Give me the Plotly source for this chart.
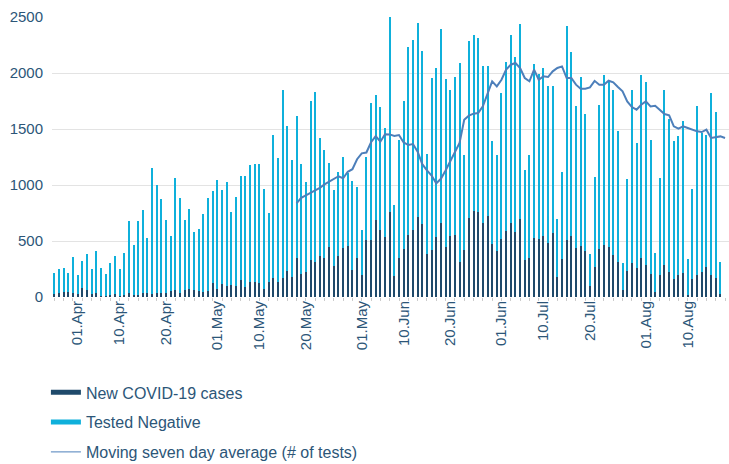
import pandas as pd
import plotly.graph_objects as go

start_date = "2020-03-27"
n_days = 145
dates = pd.date_range(start_date, periods=n_days, freq="D")

new_cases = [30, 33, 42, 48, 39, 30, 83, 62, 30, 39, 6, 9, 21, 27, 6, 21, 36, 18, 18, 36,
             36, 30, 36, 33, 36, 54, 62, 39, 62, 74, 60, 57, 48, 57, 128, 74, 119, 101, 110, 101,
             155, 92, 137, 137, 128, 74, 137, 173, 137, 173, 232, 182, 345, 208, 223, 327, 315, 369, 351, 446,
             280, 363, 434, 452, 244, 348, 199, 512, 512, 690, 595, 539, 762, 190, 345, 426, 557, 601, 717, 655,
             387, 420, 539, 658, 449, 545, 551, 312, 417, 705, 765, 756, 658, 726, 476, 408, 515, 586, 658, 577,
             699, 327, 345, 530, 521, 548, 485, 574, 176, 336, 512, 548, 434, 452, 408, 95, 265, 432, 461, 443,
             378, 315, 65, 232, 301, 256, 345, 283, 202, 42, 193, 283, 226, 158, 193, 217, 15, 158, 193, 220,
             271, 193, 167, 30]

tested_negative = [184, 214, 217, 166, 319, 169, 237, 322, 216, 372, 250, 196, 283, 336, 246, 372, 640, 442, 660, 738,
                   492, 1125, 961, 844, 648, 495, 997, 848, 622, 709, 519, 550, 693, 827, 818, 971, 837, 926, 649, 795,
                   922, 988, 1046, 1047, 1056, 890, 610, 1273, 1107, 1675, 1293, 1038, 1271, 976, 804, 1423, 1514, 1052, 961, 747,
                   674, 753, 816, 655, 788, 631, 402, 735, 1220, 1116, 1104, 973, 1738, 634, 1057, 1327, 1675, 1696, 1729, 1538,
                   887, 1535, 1506, 1735, 1500, 1300, 1416, 1780, 854, 1581, 1574, 1553, 1404, 1339, 920, 863, 1306, 1512, 1681, 1566,
                   1741, 804, 926, 1553, 1473, 1499, 1402, 1313, 520, 777, 1910, 1642, 1268, 1515, 1229, 292, 803, 1285, 1518, 1491,
                   1473, 1170, 242, 824, 1550, 1116, 1637, 1639, 1203, 348, 872, 1565, 1360, 1235, 1247, 1357, 324, 809, 1515, 1241,
                   1178, 1631, 1485, 285]

moving_avg = [None] * 52 + [
    836, 885, 908, 929, 950, 975, 1005, 1030, 1055, 1078, 1060, 1118, 1141, 1230, 1283, 1290, 1382, 1437, 1387, 1453,
    1452, 1437, 1446, 1380, 1357, 1366, 1298, 1186, 1131, 1085, 1015, 1055, 1130, 1211, 1283, 1375, 1583, 1619, 1637, 1643,
    1702, 1806, 1926, 1881, 1940, 2030, 2074, 2089, 2045, 1955, 1926, 2030, 1940, 1970, 1964, 2015, 2045, 2059, 1955, 1955,
    1896, 1860, 1860, 1872, 1930, 1896, 1896, 1931, 1917, 1875, 1836, 1747, 1696, 1672, 1717, 1747, 1702, 1708, 1672, 1634,
    1622, 1524, 1503, 1524, 1509, 1494, 1479, 1473, 1494, 1420, 1426, 1434, 1420]

tick_dates = ["2020-04-01", "2020-04-10", "2020-04-20", "2020-05-01", "2020-05-10", "2020-05-20",
              "2020-06-01", "2020-06-10", "2020-06-20", "2020-07-01", "2020-07-10", "2020-07-20",
              "2020-08-01", "2020-08-10"]
tick_labels = ["01.Apr", "10.Apr", "20.Apr", "01.May", "10.May", "20.May",
               "01.May", "10.Jun", "20.Jun", "01.Jun", "10.Jul", "20.Jul",
               "01.Aug", "10.Aug"]

series_names = ["New COVID-19 cases", "Tested Negative", "Moving seven day average (# of tests)"]

C_CASES = "#1f4a6b"
C_NEG = "#0fb0db"
C_LINE = "#4d7fba"
C_TEXT = "#2c5678"
FONT = "Liberation Sans, Arial, sans-serif"

bar_dates = dates[:len(new_cases)]

fig = go.Figure()
fig.add_trace(go.Bar(x=bar_dates, y=new_cases, name=series_names[0], marker_color=C_CASES,
                     marker_line_width=0, showlegend=False))
fig.add_trace(go.Bar(x=bar_dates, y=tested_negative, name=series_names[1], marker_color=C_NEG,
                     marker_line_width=0, showlegend=False))
fig.add_trace(go.Scatter(x=dates, y=moving_avg, name=series_names[2], mode="lines",
                         line=dict(color=C_LINE, width=2), showlegend=False, connectgaps=False))

# legend entries drawn as line symbols like the reference
for i, (nm, col, w) in enumerate(zip(series_names, [C_CASES, C_NEG, C_LINE], [5, 5, 1])):
    fig.add_trace(go.Scatter(x=[None], y=[None], mode="lines", name=nm,
                             line=dict(color=col, width=w), legendgroup=f"g{i}", showlegend=True))

fig.update_layout(
    width=729, height=464,
    margin=dict(l=52, r=0, t=17, b=167, autoexpand=False),
    paper_bgcolor="white", plot_bgcolor="white",
    barmode="stack", bargap=0.57,
    font=dict(family=FONT, color=C_TEXT, size=15),
    legend=dict(orientation="v", x=-0.009, xanchor="left", y=-0.280, yanchor="top",
                font=dict(size=16, color=C_TEXT), tracegroupgap=6, bgcolor="rgba(0,0,0,0)"),
    xaxis=dict(type="date", range=["2020-03-26 12:00", "2020-08-18 20:24"],
               tickvals=tick_dates, ticktext=tick_labels, tickangle=-90,
               tickfont=dict(size=15, color=C_TEXT), showgrid=False, zeroline=False,
               showline=False, ticks="",
               minor=dict(ticks="outside", ticklen=3, tickcolor="#cccccc", dtick=2 * 86400000,
                          tick0="2020-03-27", showgrid=False)),
    yaxis=dict(range=[0, 2500], dtick=500, showgrid=True, gridcolor="#e3e3e3", gridwidth=1,
               zeroline=False, showline=False, ticks="", ticklabelstandoff=8,
               tickfont=dict(size=15, color=C_TEXT)),
)

fig.write_html("out.html", config={"displayModeBar": False},
               post_script="document.body.style.margin='0px';document.body.style.overflow='hidden';")
